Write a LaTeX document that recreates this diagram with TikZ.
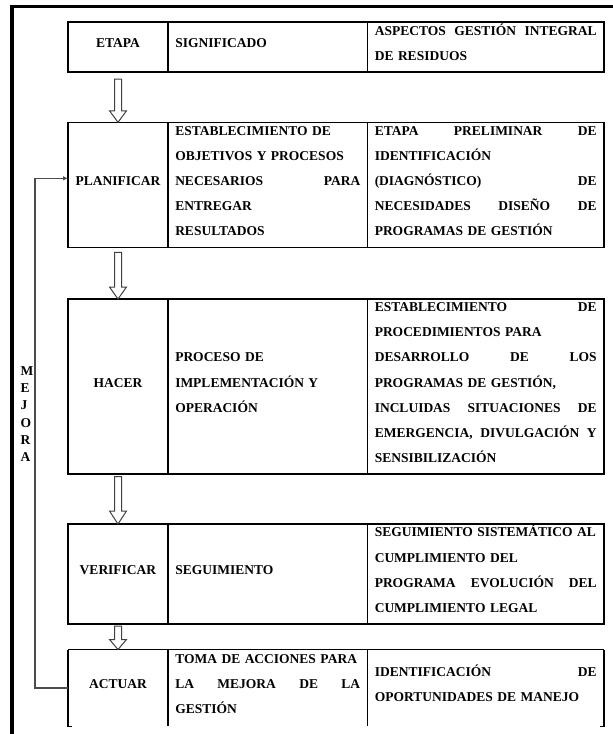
\documentclass[tikz,border=0pt]{standalone}
\usepackage{fontspec}
\setmainfont{Liberation Serif}
\usetikzlibrary{arrows.meta,positioning,calc}

% Strut that fixes the height and depth of the first and last lines.
\newcommand{\puntal}{\rule[-7.5pt]{0pt}{25.1pt}}

% Hollow block arrow from one cell to the next one.
\newcommand{\flecha}[4][12]{%
    \draw[hueca]
        ($(#2.south)+(-3.5,#4)$) --
        ($(#3.north)+(-3.5,-#1)$) --
        ($(#3.north)+(-8.5,-#1)$) --
        (#3.north) --
        ($(#3.north)+(8.5,-#1)$) --
        ($(#3.north)+(3.5,-#1)$) --
        ($(#2.south)+(3.5,#4)$) -- cycle;}

\begin{document}
\begin{tikzpicture}[%
        > = {Latex[length=5pt,width=4.5pt]},
        x = 1pt, y = -1pt,
        line width = 1.2pt,
        celda/.style = {draw, inner sep = 0pt, outer sep = 0pt, anchor = north west},
        abierta/.style = {inner sep = 0pt, outer sep = 0pt, anchor = north west},
        texto/.style = {inner sep = 0pt,
            font = \fontsize{13.5}{25.1}\selectfont\bfseries,
            execute at begin node = {\parindent=0pt\puntal},
            execute at end node = \puntal},
        izq/.style = {texto, align = left},
        hueca/.style = {draw = black!75, fill = white, line width = 1pt},
        realim/.style = {->, draw = black!70, line width = 1.3pt}
    ]

        % Size of the figure.
        \useasboundingbox (0,0) rectangle (613,734);
        \clip (0,0) rectangle (613,734);

        % Outer frame:
        \draw[line width = 3.5pt] (12,740) -- (12,6.5) -- (620,6.5);

        % Header row.
        \node[celda, minimum width = 100, minimum height = 50] (etapa) at (68,22) {};
        \node[celda, minimum width = 199.5, minimum height = 50, right = 0pt of etapa] (significado) {};
        \node[celda, minimum width = 236.5, minimum height = 50, right = 0pt of significado] (aspectos) {};

        \node[texto] (etapa-t) at ($(etapa.center)+(0,-4.5)$) {ETAPA};
        \node[izq, text width = 185pt] (significado-t) at ($(significado.center)+(0,-4.5)$) {SIGNIFICADO};
        \node[izq, text width = 222pt] (aspectos-t) at ($(aspectos.center)+(0,-4.5)$)
            {ASPECTOS\hfill GESTIÓN\hfill INTEGRAL\\DE RESIDUOS};

        % Planificar.
        \node[celda, minimum width = 100, minimum height = 125] (planificar) at (68,122.3) {};
        \node[celda, minimum width = 199.5, minimum height = 125, right = 0pt of planificar] (planSig) {};
        \node[celda, minimum width = 236.5, minimum height = 125, right = 0pt of planSig] (planAsp) {};

        \node[texto] (planificar-t) at ($(planificar.center)+(0,-4.5)$) {PLANIFICAR};
        \node[izq, text width = 185pt] (planSig-t) at ($(planSig.center)+(0,-4.5)$)
            {ESTABLECIMIENTO DE\\OBJETIVOS Y PROCESOS\\NECESARIOS\hfill PARA\\ENTREGAR\\RESULTADOS};
        \node[izq, text width = 222pt] (planAsp-t) at ($(planAsp.center)+(0,-4.5)$)
            {ETAPA\hfill PRELIMINAR\hfill DE\\IDENTIFICACIÓN\\(DIAGNÓSTICO)\hfill DE\\NECESIDADES\hfill DISEÑO\hfill DE\\PROGRAMAS DE GESTIÓN};

        % Hacer.
        \node[celda, minimum width = 100, minimum height = 175] (hacer) at (68,299) {};
        \node[celda, minimum width = 199.5, minimum height = 175, right = 0pt of hacer] (hacerSig) {};
        \node[celda, minimum width = 236.5, minimum height = 175, right = 0pt of hacerSig] (hacerAsp) {};

        \node[texto] (hacer-t) at ($(hacer.center)+(0,-4.5)$) {HACER};
        \node[izq, text width = 185pt] (hacerSig-t) at ($(hacerSig.center)+(0,-4.5)$)
            {PROCESO DE\\IMPLEMENTACIÓN Y\\OPERACIÓN};
        \node[izq, text width = 222pt] (hacerAsp-t) at ($(hacerAsp.center)+(0,-4.5)$)
            {ESTABLECIMIENTO\hfill DE\\PROCEDIMIENTOS PARA\\DESARROLLO\hfill DE\hfill LOS\\PROGRAMAS DE GESTIÓN,\\INCLUIDAS\hfill SITUACIONES\hfill DE\\EMERGENCIA,\hfill DIVULGACIÓN\hfill Y\\SENSIBILIZACIÓN};

        % Verificar.
        \node[celda, minimum width = 100, minimum height = 100] (verificar) at (68,524) {};
        \node[celda, minimum width = 199.5, minimum height = 100, right = 0pt of verificar] (verifSig) {};
        \node[celda, minimum width = 236.5, minimum height = 100, right = 0pt of verifSig] (verifAsp) {};

        \node[texto] (verificar-t) at ($(verificar.center)+(0,-4.5)$) {VERIFICAR};
        \node[izq, text width = 185pt] (verifSig-t) at ($(verifSig.center)+(0,-4.5)$) {SEGUIMIENTO};
        \node[izq, text width = 222pt] (verifAsp-t) at ($(verifAsp.center)+(0,-4.5)$)
            {SEGUIMIENTO SISTEMÁTICO AL\\CUMPLIMIENTO DEL\\PROGRAMA\hfill EVOLUCIÓN\hfill DEL\\CUMPLIMIENTO LEGAL};

        % Actuar (its bottom edge is cut off).
        \node[abierta, minimum width = 100, minimum height = 77] (actuar) at (68,649.5) {};
        \node[abierta, minimum width = 199.5, minimum height = 77, right = 0pt of actuar] (actuarSig) {};
        \node[abierta, minimum width = 236.5, minimum height = 77, right = 0pt of actuarSig] (actuarAsp) {};
        \draw (actuar.north west) -- (actuarAsp.north east);
        \draw ([xshift=4pt]actuar.south west) -- (actuar.south west) -- (actuar.north west);
        \draw (actuar.north east) -- ([yshift=1pt]actuar.south east);
        \draw (actuarSig.north east) -- ([yshift=1pt]actuarSig.south east);
        \draw ([xshift=-4pt]actuarAsp.south east) -- (actuarAsp.south east) -- (actuarAsp.north east);

        \node[texto] (actuar-t) at ($(actuar.center)+(0,-4.5)$) {ACTUAR};
        \node[izq, text width = 185pt] (actuarSig-t) at ($(actuarSig.center)+(0,-4.5)$)
            {TOMA DE ACCIONES PARA\\LA\hfill MEJORA\hfill DE\hfill LA\\GESTIÓN};
        \node[izq, text width = 222pt] (actuarAsp-t) at ($(actuarAsp.center)+(0,-4.5)$)
            {IDENTIFICACIÓN\hfill DE\\OPORTUNIDADES DE MANEJO};

        % Block arrows between the stages.
        \flecha[11.5]{etapa}{planificar}{7}
        \flecha[12]{planificar}{hacer}{5}
        \flecha[13]{hacer}{verificar}{2.7}
        \flecha[10]{verificar}{actuar}{2}

        % Feedback loop with its label.
        \draw[realim] (actuar.west) -- ++(-33,0) |- ($(planificar.west)+(0,-6.5)$);
        \node[inner sep = 0pt, anchor = west, align = left,
            font = \fontsize{13.5}{17.2}\selectfont\bfseries] (mejora) at (20,414) {M\\E\\J\\O\\R\\A};
    \end{tikzpicture}
\end{document}
